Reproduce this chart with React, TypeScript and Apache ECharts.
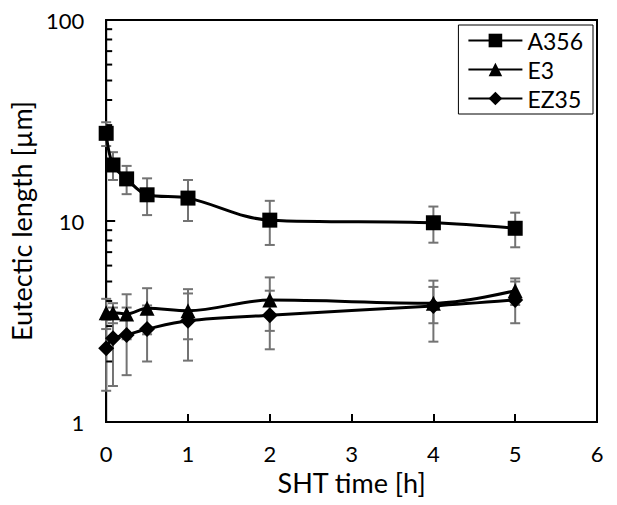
import React, { useEffect, useRef } from "react";
import * as echarts from "echarts";

const times = [0, 0.083, 0.25, 0.5, 1, 2, 4, 5];
const a356 = [27.3, 19.0, 16.2, 13.5, 13.0, 10.1, 9.8, 9.2];
const a356Err = [3.7, 3.0, 2.6, 2.8, 3.0, 2.5, 2.0, 1.8];
const e3 = [3.5, 3.5, 3.45, 3.68, 3.58, 4.04, 3.9, 4.5];
const e3Err = [0.6, 0.4, 0.87, 0.95, 1.0, 1.2, 0.8, 0.68];
const ez35 = [2.33, 2.61, 2.71, 2.9, 3.19, 3.4, 3.78, 4.05];
const ez35Err = [0.9, 1.1, 1.0, 0.9, 1.17, 1.1, 1.27, 0.95];
const minorTickValues = [2, 3, 4, 5, 6, 7, 8, 9, 20, 30, 40, 50, 60, 70, 80, 90];

const FONT = "Lato, 'Open Sans', sans-serif";

function errData(vals: number[], errs: number[]) {
  return times.map((t, i) => [t, vals[i] - errs[i], vals[i] + errs[i]]);
}

function errorSeries(vals: number[], errs: number[]) {
  return {
    type: "custom",
    z: 1,
    silent: true,
    data: errData(vals, errs),
    renderItem: (params: any, api: any) => {
      const x = api.value(0);
      const lo = api.coord([x, api.value(1)]);
      const hi = api.coord([x, api.value(2)]);
      const w = 5;
      const style = { stroke: "#737373", lineWidth: 2 };
      return {
        type: "group",
        children: [
          { type: "line", shape: { x1: lo[0], y1: lo[1], x2: hi[0], y2: hi[1] }, style },
          { type: "line", shape: { x1: lo[0] - w, y1: lo[1], x2: lo[0] + w, y2: lo[1] }, style },
          { type: "line", shape: { x1: hi[0] - w, y1: hi[1], x2: hi[0] + w, y2: hi[1] }, style },
        ],
      };
    },
  };
}

function lineSeries(name: string, vals: number[], symbol: string, size: number) {
  return {
    name,
    type: "line",
    z: 3,
    smooth: 0.35,
    symbol,
    symbolSize: size,
    data: times.map((t, i) => [t, vals[i]]),
    lineStyle: { color: "#000", width: 3 },
    itemStyle: { color: "#000" },
  };
}

export default function App() {
  const ref = useRef<HTMLDivElement>(null);
  useEffect(() => {
    document.body.style.margin = "0";
    if (!ref.current) return;
    const chart = echarts.init(ref.current, undefined, { renderer: "svg" });
    chart.setOption({
      animation: false,
      backgroundColor: "#fff",
      grid: {
        left: 102,
        right: 20,
        top: 20,
        bottom: 83,
        show: true,
        borderColor: "#000",
        borderWidth: 2,
      },
      legend: {
        orient: "vertical",
        right: 24,
        top: 25,
        backgroundColor: "#fff",
        borderColor: "#000",
        borderWidth: 1,
        borderRadius: 0,
        padding: [4, 10, 4, 9],
        itemWidth: 54,
        itemHeight: 17,
        itemGap: 6,
        textStyle: { fontSize: 23, color: "#000", fontFamily: FONT },
        data: ["A356", "E3", "EZ35"],
      },
      xAxis: {
        type: "value",
        min: 0,
        max: 6,
        interval: 1,
        axisLine: { lineStyle: { color: "#000", width: 2 } },
        axisTick: { inside: true, length: 8, lineStyle: { color: "#000", width: 2 } },
        axisLabel: { fontSize: 22, color: "#000", fontFamily: FONT, margin: 20 },
        splitLine: { show: false },
        name: "SHT time [h]",
        nameLocation: "middle",
        nameGap: 43,
        nameTextStyle: { fontSize: 27, color: "#000", fontFamily: FONT },
      },
      yAxis: {
        type: "log",
        logBase: 10,
        min: 1,
        max: 100,
        axisLine: { lineStyle: { color: "#000", width: 2 } },
        axisTick: { inside: true, length: 9, lineStyle: { color: "#000", width: 2 } },
        axisLabel: { fontSize: 22, color: "#000", fontFamily: FONT, margin: 22 },
        splitLine: { show: false },
        name: "Eutectic length [µm]",
        nameLocation: "middle",
        nameGap: 57,
        nameTextStyle: { fontSize: 27, color: "#000", fontFamily: FONT },
      },
      series: [
        {
          type: "custom",
          z: 2,
          silent: true,
          data: minorTickValues.map((v) => [0, v]),
          renderItem: (params: any, api: any) => {
            const p = api.coord([api.value(0), api.value(1)]);
            return {
              type: "line",
              shape: { x1: p[0], y1: p[1], x2: p[0] + 6, y2: p[1] },
              style: { stroke: "#000", lineWidth: 2 },
            };
          },
        },
        errorSeries(a356, a356Err),
        errorSeries(e3, e3Err),
        errorSeries(ez35, ez35Err),
        lineSeries("A356", a356, "rect", 15),
        lineSeries("E3", e3, "triangle", 15),
        lineSeries("EZ35", ez35, "diamond", 16),
      ],
    });
    return () => chart.dispose();
  }, []);
  return <div ref={ref} style={{ width: 617, height: 505 }} />;
}
